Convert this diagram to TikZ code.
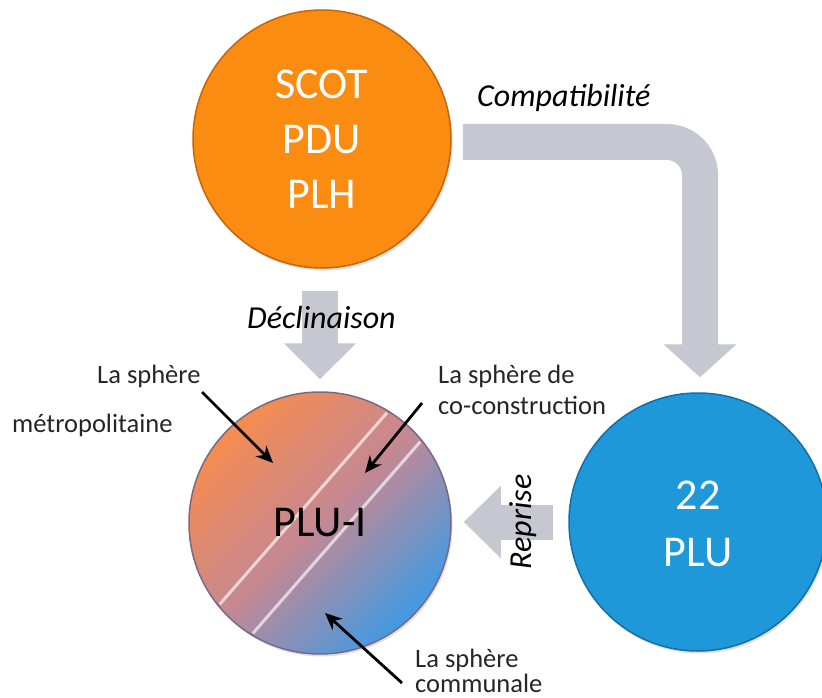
\documentclass[tikz,border=0pt]{standalone}
\usepackage{fontspec}
\setmainfont{Carlito}
\usetikzlibrary{arrows.meta,shadows,calc}
\definecolor{orangeC}{RGB}{250,140,18}
\definecolor{orangeRim}{RGB}{200,100,10}
\definecolor{blueC}{RGB}{30,152,216}
\definecolor{blueRim}{RGB}{22,110,165}
\definecolor{grayArrow}{RGB}{198,199,208}
\definecolor{pluOrange}{RGB}{246,140,78}
\definecolor{pluMid}{RGB}{196,136,148}
\definecolor{pluBlue}{RGB}{64,154,228}
\definecolor{pluRim}{RGB}{120,105,135}
\tikzset{
  bigdisc/.style={circle, inner sep=0pt, line width=1.5pt,
    drop shadow={shadow xshift=1.5pt, shadow yshift=-2.5pt, opacity=0.25}},
  bigtext/.style={font=\fontsize{44}{55}\selectfont, align=center, inner sep=0pt},
  italiclabel/.style={font=\fontsize{32}{36}\selectfont\itshape, inner sep=0pt},
  smalllabel/.style={font=\fontsize{26.5}{30}\selectfont, inner sep=0pt, text=black!85},
  blockarrow/.style={draw=grayArrow, line width=36pt},
  pointer/.style={draw=black, line width=2.8pt, -{Stealth[length=17pt,width=15pt]}},
  chordline/.style={draw=white, opacity=0.65, line width=3pt}
}
\begin{document}
\begin{tikzpicture}[x=1pt,y=-1pt]
\useasboundingbox (0,0) rectangle (822,698);
\fill[white] (0,0) rectangle (822,698);

% circles
\node[bigdisc, fill=orangeC, draw=orangeRim, minimum size=258pt] (scot) at (322,139) {};
\node[bigdisc, fill=blueC, draw=blueRim, minimum size=258pt] (plu) at (698,522) {};
\node[bigdisc, draw=pluRim, top color=pluOrange, bottom color=pluBlue, middle color=pluMid,
      shading angle=45, minimum size=262pt] (plui) at (320,523) {};

% chords on PLU-I
\begin{scope}
  \clip (plui.center) circle (129);
  \draw[chordline] (204.7,621.5) -- (402,395.5);
  \draw[chordline] (237.9,650.5) -- (435.3,424.5);
\end{scope}

% circle texts
\node[bigtext, text=white] (scott) at (scot.center) {SCOT\\PDU\\PLH};
\node[bigtext, text=white] (plut) at ([yshift=-2pt]plu.center) {22\\[2pt]PLU};
\node[bigtext, text=black] (pluit) at (plui.center) {PLU-I};

% gray block arrows
\draw[blockarrow, rounded corners=33pt, -{Triangle[length=33pt,width=71pt]}]
  ([xshift=11pt,yshift=-3pt]scot.east) -| ([xshift=2pt,yshift=15pt]plu.north);
\draw[blockarrow, -{Triangle[length=36pt,width=70pt]}]
  ([xshift=-2pt,yshift=-22pt]scot.south) -- ([yshift=12pt]plui.north);
\draw[blockarrow, line width=35pt, -{Triangle[length=37pt,width=70pt]}]
  ([xshift=-15pt]plu.west) -- ([xshift=12pt,yshift=1pt]plui.east);

% italic labels
\node[italiclabel, anchor=base west] (compat) at (477,107) {Compatibilité};
\node[italiclabel, anchor=base west] (declin) at (247,328) {Déclinaison};
\node[italiclabel, rotate=90] (reprise) at (523,522) {Reprise};

% sphere labels
\node[smalllabel, anchor=base west] (lsm1) at (97,383) {La sphère};
\node[smalllabel, anchor=base west] (lsm2) at (12,432) {métropolitaine};
\node[smalllabel, anchor=base west] (lsc1) at (438,383) {La sphère de};
\node[smalllabel, anchor=base west] (lsc2) at (438,414) {co-construction};
\node[smalllabel, anchor=base west] (lsl1) at (415,667) {La sphère};
\node[smalllabel, anchor=base west] (lsl2) at (415,692) {communale};

% pointer arrows
\coordinate (p1s) at (202,392);
\coordinate (p1e) at (273,463);
\coordinate (p2s) at (422,403);
\coordinate (p2e) at (365,473);
\coordinate (p3s) at (402,683);
\coordinate (p3e) at (325,613);
\draw[pointer] (p1s) -- (p1e);
\draw[pointer] (p2s) -- (p2e);
\draw[pointer] (p3s) -- (p3e);
\end{tikzpicture}
\end{document}
